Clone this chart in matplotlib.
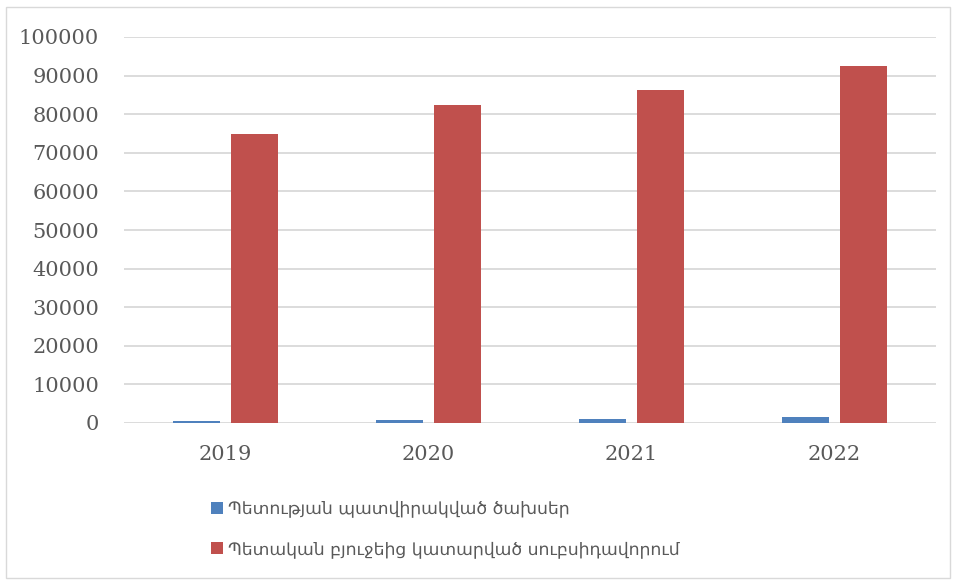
import matplotlib
matplotlib.use("Agg")
import matplotlib.pyplot as plt
import numpy as np
from matplotlib.patches import Rectangle

# data
years = ["2019", "2020", "2021", "2022"]
delegated = [600, 850, 1100, 1600]
subsidies = [75000, 82500, 86300, 92400]
labels = ["Պետության պատվիրակված ծախսեր",
          "Պետական բյուջեից կատարված սուբսիդավորում"]
yticks = list(range(0, 100001, 10000))

blue = "#4F81BD"
red = "#C0504D"
txt = "#595959"

fig = plt.figure(figsize=(9.57, 5.83), dpi=100)
ax = fig.add_axes([124 / 957, 1 - 423 / 583, (936 - 124) / 957, (423 - 37) / 583])

x = np.arange(len(years))
w = 0.227
off = 0.143
ax.bar(x - off, delegated, w, color=blue, label=labels[0], zorder=3)
ax.bar(x + off, subsidies, w, color=red, label=labels[1], zorder=3)

ax.set_xlim(-0.5, len(years) - 0.5)
ax.set_ylim(0, 100000)
ax.set_yticks(yticks)
ax.set_xticks(x)
ax.set_xticklabels(years)
ax.grid(axis="y", color="#D9D9D9", linewidth=1.3, zorder=0)
for s in ax.spines.values():
    s.set_visible(False)
ax.tick_params(length=0, labelsize=15, colors=txt)
ax.tick_params(axis="x", pad=16)
ax.tick_params(axis="y", pad=18)
for t in ax.get_xticklabels() + ax.get_yticklabels():
    t.set_family(["DejaVu Serif", "DejaVu Sans"])

h, l = ax.get_legend_handles_labels()
leg = fig.legend(h, l, loc="upper left", bbox_to_anchor=(202 / 957, 1 - 491 / 583),
                 frameon=False, prop={"family": ["DejaVu Sans"], "size": 12.4},
                 handlelength=0.7, handleheight=0.7, handletextpad=0.3,
                 labelspacing=1.3, borderpad=0)
for t in leg.get_texts():
    t.set_color(txt)

fig.patches.append(Rectangle((6 / 957, 5 / 583), 944 / 957, 571 / 583,
                             transform=fig.transFigure, fill=False,
                             edgecolor="#D9D9D9", linewidth=1))

fig.savefig("out.png", dpi=100)
